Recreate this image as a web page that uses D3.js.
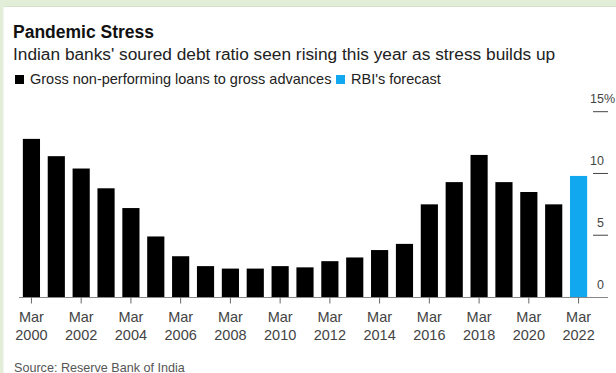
<!DOCTYPE html>
<html>
<head>
<meta charset="utf-8">
<script src="https://cdn.jsdelivr.net/npm/d3@7"></script>
<style>
  html, body { margin: 0; padding: 0; background: #ffffff; }
  svg { display: block; font-family: "Liberation Sans", Arial, Helvetica, sans-serif; }
</style>
</head>
<body>
<svg id="chart" width="616" height="373"></svg>
<script>
// Gross NPA ratio of Indian banks, fiscal years ending March (%)
const actualYears = ["2000","2001","2002","2003","2004","2005","2006","2007","2008","2009","2010",
                     "2011","2012","2013","2014","2015","2016","2017","2018","2019","2020","2021"];
const actualValues = [12.8, 11.4, 10.4, 8.8, 7.2, 4.9, 3.3, 2.5, 2.3, 2.3, 2.5,
                      2.4, 2.9, 3.2, 3.8, 4.3, 7.5, 9.3, 11.5, 9.3, 8.5, 7.5];
// RBI projection for March 2022
const forecastYears = ["2022"];
const forecastValues = [9.8];

const xTickYears = ["2000","2002","2004","2006","2008","2010","2012","2014","2016","2018","2020","2022"];
const yTicks = [0, 5, 10, 15];
const legendLabels = ["Gross non-performing loans to gross advances", "RBI's forecast"];
const titleText = "Pandemic Stress";
const subtitleText = "Indian banks' soured debt ratio seen rising this year as stress builds up";
const sourceText = "Source: Reserve Bank of India";

const COLORS = { actual: "#000000", forecast: "#12a8f0" };

const svg = d3.select("#chart");
const W = 616, H = 373;

// frame: pale green strip along the top and left edges
svg.append("rect").attr("x", 0).attr("y", 0).attr("width", W).attr("height", H).attr("fill", "#ffffff");
svg.append("rect").attr("x", 0).attr("y", 0).attr("width", W).attr("height", 6).attr("fill", "#e2eed8");
svg.append("rect").attr("x", 0).attr("y", 0).attr("width", 3.5).attr("height", H).attr("fill", "#e2eed8");
svg.append("line").attr("x1", 3.5).attr("x2", W).attr("y1", 6.5).attr("y2", 6.5)
   .attr("stroke", "#d3e3c8").attr("stroke-width", 1);

// titles
svg.append("text").attr("x", 13).attr("y", 37.5)
   .attr("font-size", 17.5).attr("font-weight", "bold").attr("fill", "#111")
   .text(titleText);
svg.append("text").attr("x", 13).attr("y", 60)
   .attr("font-size", 17.3).attr("fill", "#222")
   .text(subtitleText);

// legend
const legendColors = [COLORS.actual, COLORS.forecast];
const legendX = [15, 336];
legendLabels.forEach((lab, i) => {
  svg.append("rect").attr("x", legendX[i]).attr("y", 75).attr("width", 9).attr("height", 9)
     .attr("fill", legendColors[i]);
  svg.append("text").attr("x", legendX[i] + 15).attr("y", 84)
     .attr("font-size", 14.5).attr("fill", "#222").text(lab);
});

// scales
const allYears = actualYears.concat(forecastYears);
const x = d3.scaleBand().domain(allYears).range([19, 591]).paddingInner(0.31).paddingOuter(0.155);
const y = d3.scaleLinear().domain([0, 15]).range([297, 111.7]);

// right-hand value axis: short tick lines with labels sitting above them
const labelRight = 604;
const yAxis = svg.append("g");
yAxis.selectAll("line").data(yTicks).join("line")
  .attr("x1", 593).attr("x2", 608)
  .attr("y1", d => y(d)).attr("y2", d => y(d))
  .attr("stroke", "#444").attr("stroke-width", 1)
  .attr("display", d => d === 0 ? "none" : null);
yAxis.selectAll("text.val").data(yTicks).join("text").attr("class", "val")
  .attr("x", labelRight).attr("y", d => y(d) - 8.5)
  .attr("text-anchor", "end").attr("font-size", 12.5).attr("fill", "#444")
  .text(d => d);
yAxis.selectAll("text.pct").data(yTicks.filter(d => d === d3.max(yTicks))).join("text").attr("class", "pct")
  .attr("x", labelRight).attr("y", d => y(d) - 8.5)
  .attr("font-size", 12.5).attr("fill", "#444").text("%");

// bars
const actualData = actualYears.map((yr, i) => ({ year: yr, value: actualValues[i] }));
const forecastData = forecastYears.map((yr, i) => ({ year: yr, value: forecastValues[i] }));

svg.append("g").selectAll("rect").data(actualData).join("rect")
  .attr("x", d => x(d.year)).attr("width", x.bandwidth())
  .attr("y", d => y(d.value)).attr("height", d => y(0) - y(d.value))
  .attr("fill", COLORS.actual);
svg.append("g").selectAll("rect").data(forecastData).join("rect")
  .attr("x", d => x(d.year)).attr("width", x.bandwidth())
  .attr("y", d => y(d.value)).attr("height", d => y(0) - y(d.value))
  .attr("fill", COLORS.forecast);

// baseline and category axis
svg.append("line").attr("x1", 19).attr("x2", 608).attr("y1", y(0) + 0.5).attr("y2", y(0) + 0.5)
   .attr("stroke", "#888").attr("stroke-width", 1);

const xAxis = d3.axisBottom(x).tickValues(xTickYears).tickSize(6).tickFormat("");
const gx = svg.append("g").attr("transform", `translate(0,${y(0) + 0.5})`).call(xAxis);
gx.select(".domain").remove();
gx.selectAll(".tick line").attr("stroke", "#666");
gx.selectAll(".tick").each(function(d) {
  const t = d3.select(this);
  t.append("text").attr("y", 24.5).attr("text-anchor", "middle")
   .attr("font-size", 14.5).attr("fill", "#444").text("Mar");
  t.append("text").attr("y", 42.5).attr("text-anchor", "middle")
   .attr("font-size", 14.5).attr("fill", "#444").text(d);
});

// source note
svg.append("text").attr("x", 14).attr("y", 371.5)
   .attr("font-size", 12.6).attr("fill", "#555").text(sourceText);
</script>
</body>
</html>
